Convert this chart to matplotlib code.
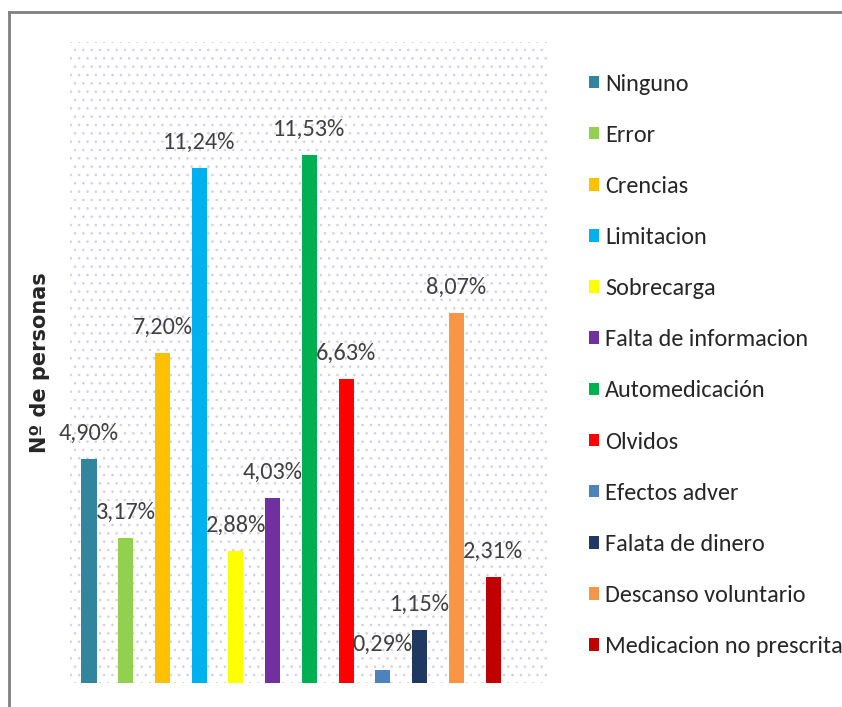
import matplotlib
matplotlib.use("Agg")
import matplotlib.pyplot as plt
from matplotlib.patches import Patch, Rectangle

categories = [
    "Ninguno", "Error", "Crencias", "Limitacion", "Sobrecarga",
    "Falta de informacion", "Automedicación", "Olvidos", "Efectos adver",
    "Falata de dinero", "Descanso voluntario", "Medicacion no prescrita",
]
values = [4.90, 3.17, 7.20, 11.24, 2.88, 4.03, 11.53, 6.63, 0.29, 1.15, 8.07, 2.31]
labels = ["4,90%", "3,17%", "7,20%", "11,24%", "2,88%", "4,03%",
          "11,53%", "6,63%", "0,29%", "1,15%", "8,07%", "2,31%"]
colors = ["#31859C", "#92D050", "#FFC000", "#00B0F0", "#FFFF00", "#7030A0",
          "#00B050", "#FF0000", "#4F81BD", "#1F3864", "#F79646", "#C00000"]

plt.rcParams["font.family"] = ["Carlito", "DejaVu Sans"]
plt.rcParams["hatch.linewidth"] = 0.6

fig = plt.figure(figsize=(8.42, 7.07), dpi=100)
ax = fig.add_axes([0.083, 0.034, 0.568, 0.9066])

# dotted plot-area background
bg = Rectangle((0, 0), 1, 1, transform=ax.transAxes, facecolor="white",
               edgecolor="#cdd2e2", hatch="..", linewidth=0, zorder=0)
ax.add_patch(bg)

x = list(range(len(values)))
ax.bar(x, values, width=0.41, color=colors, zorder=2)
for xi, v, lab in zip(x, values, labels):
    ax.text(xi, v + 0.42, lab, ha="center", va="baseline", fontsize=17.5,
            color="#404040", zorder=3)

ax.set_xlim(-0.52, 12.5)
ax.set_ylim(0, 14)
ax.set_xticks([])
ax.set_yticks([])
for s in ax.spines.values():
    s.set_visible(False)

fig.text(0.0475, 0.4866, "Nº de personas", rotation=90, ha="center",
         va="center", fontsize=15, fontweight="bold",
         family="DejaVu Sans", color="#262626")

handles = [Patch(facecolor=c, edgecolor="none") for c in colors]
fig.legend(handles, categories, loc="upper left",
           bbox_to_anchor=(0.685, 0.913), frameon=False, fontsize=17.5,
           handlelength=0.42, handleheight=0.42, handletextpad=0.25,
           labelspacing=1.24, labelcolor="#262626", borderpad=0)

# figure border (top and left)
fig.add_artist(plt.Line2D([0.0107, 0.0107], [0.0, 0.983],
                          transform=fig.transFigure, color="#808080", lw=2))
fig.add_artist(plt.Line2D([0.0107, 1.0], [0.983, 0.983],
                          transform=fig.transFigure, color="#808080", lw=2))

fig.savefig("out.png", dpi=100)
